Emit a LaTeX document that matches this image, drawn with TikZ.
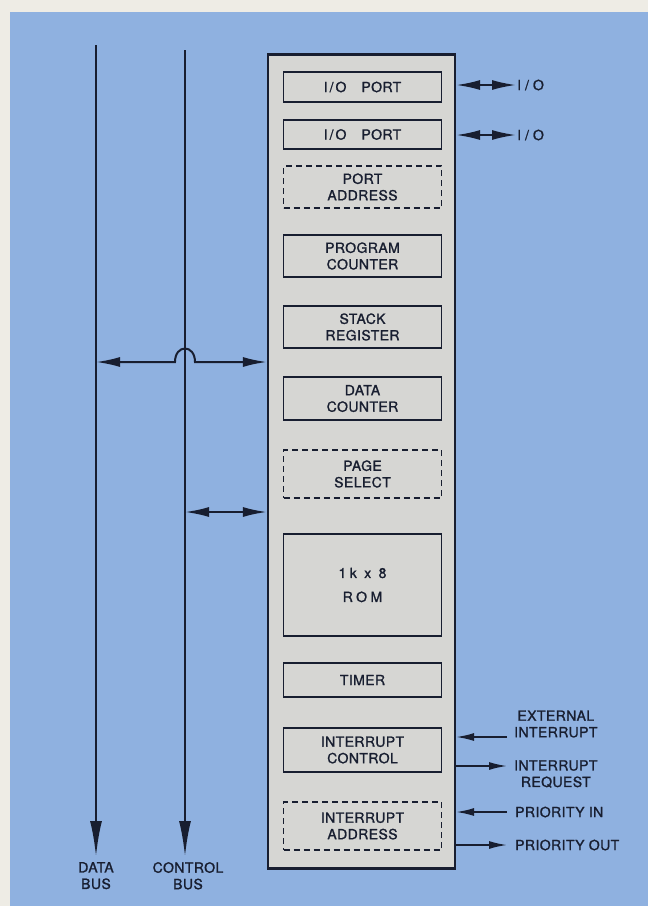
\documentclass[tikz,border=0pt]{standalone}
\usepackage{fontspec}
\setmainfont{TeX Gyre Heros}[LetterSpace=3,FakeBold=1.3]
\usepackage{tikz}
\usetikzlibrary{arrows.meta,positioning}
\definecolor{papier}{RGB}{238,236,229}
\definecolor{fond}{RGB}{143,177,224}
\definecolor{puce}{RGB}{214,214,211}
\definecolor{encre}{RGB}{24,30,48}

\tikzset{
  bus/.style={draw=encre,line width=2.8pt,-{Latex[length=36pt,width=12pt]}},
  link/.style={draw=encre,line width=2pt,{Latex[length=24pt,width=10pt]}-{Latex[length=24pt,width=10pt]}},
  sig/.style={draw=encre,line width=1.7pt,-{Latex[length=18pt,width=8pt]}},
  unit/.style={draw=encre,line width=1.8pt,minimum width=158pt,inner sep=0pt,align=center,text=encre},
  opt/.style={unit,dash pattern=on 6pt off 4pt},
  lbl/.style={text=encre,align=center,inner sep=1pt}
}

\begin{document}
\begin{tikzpicture}[x=1pt,y=-1pt,font=\fontsize{14}{16.5}\selectfont]
  \useasboundingbox[fill=papier] (0,0) rectangle (648,906);
  \fill[fond] (10,12) rectangle (648,906);

  % la puce et ses blocs
  \node[draw=encre,fill=puce,line width=2.2pt,minimum width=187pt,minimum height=814pt,inner sep=0pt] (chip) at (361.5,461.5) {};
  \node[unit,minimum height=30pt] (iop1) at (362.5,87) {I\kern2pt/\kern2pt O\hspace{15pt}PORT};
  \node[unit,minimum height=29pt] (iop2) at (362.5,134.5) {I\kern2pt/\kern2pt O\hspace{15pt}PORT};
  \node[opt,minimum height=42pt] (portad) at (362.5,187) {PORT\\ADDRESS};
  \node[unit,minimum height=42pt] (pc) at (362.5,256) {PROGRAM\\COUNTER};
  \node[unit,minimum height=42pt] (stack) at (362.5,327) {STACK\\REGISTER};
  \node[unit,minimum height=43pt] (datac) at (362.5,398.5) {DATA\\COUNTER};
  \node[opt,minimum height=48pt] (page) at (362.5,474) {PAGE\\SELECT};
  \node[unit,minimum height=102pt,font=\fontsize{14}{24}\selectfont\addfontfeatures{LetterSpace=25}] (rom) at (362.5,585) {1k x 8\\ROM};
  \node[unit,minimum height=34pt] (timer) at (362.5,680) {TIMER};
  \node[unit,minimum height=44pt] (intctl) at (362.5,750) {INTERRUPT\\CONTROL};
  \node[opt,minimum height=48pt] (intad) at (362.5,826) {INTERRUPT\\ADDRESS};

  % les bus
  \coordinate (dtop) at (96,45);
  \coordinate (dbot) at (96,857);
  \coordinate (ctop) at (185,50);
  \coordinate (cbot) at (185,857);
  \draw[bus] (dtop) -- (dbot);
  \draw[bus] (ctop) -- (cbot);
  \node[lbl,below=4pt of dbot] (dlbl) {DATA\\BUS};
  \node[lbl,below=4pt of cbot,xshift=3pt] (clbl) {CONTROL\\BUS};

  \coordinate (dtap) at (96,362);
  \coordinate (ctap) at (185,512);
  \coordinate (hump) at (dtap -| ctap);
  \draw[link] (dtap) -- ([xshift=-10pt]hump) .. controls +(0,-18) and +(0,-18) .. ([xshift=10pt]hump) -- (dtap -| chip.west);
  \draw[link] (ctap) -- (ctap -| chip.west);

  % entrees / sorties
  \node[lbl,anchor=west] (io1) at (516,85) {I\kern4pt/\kern4pt O};
  \node[lbl,anchor=west] (io2) at (516,135) {I\kern4pt/\kern4pt O};
  \draw[link] (io1.west -| chip.east) -- (io1.west);
  \draw[link] (io2.west -| chip.east) -- (io2.west);

  \coordinate (xint) at (507,737);
  \coordinate (ireq) at (507,766);
  \coordinate (pin) at (507,812);
  \coordinate (pout) at (507,845);
  \node[lbl,anchor=west] (xintl) at (513,724) {EXTERNAL\\INTERRUPT};
  \node[lbl,anchor=west] (ireql) at (513,774) {INTERRUPT\\REQUEST};
  \node[lbl,anchor=west] (pinl) at (514,812) {PRIORITY IN};
  \node[lbl,anchor=west] (poutl) at (514,845) {PRIORITY OUT};
  \draw[sig] (xint) -- (xint -| chip.east);
  \draw[sig] (ireq -| chip.east) -- (ireq);
  \draw[sig] (pin) -- (pin -| chip.east);
  \draw[sig] (pout -| chip.east) -- (pout);
\end{tikzpicture}
\end{document}
